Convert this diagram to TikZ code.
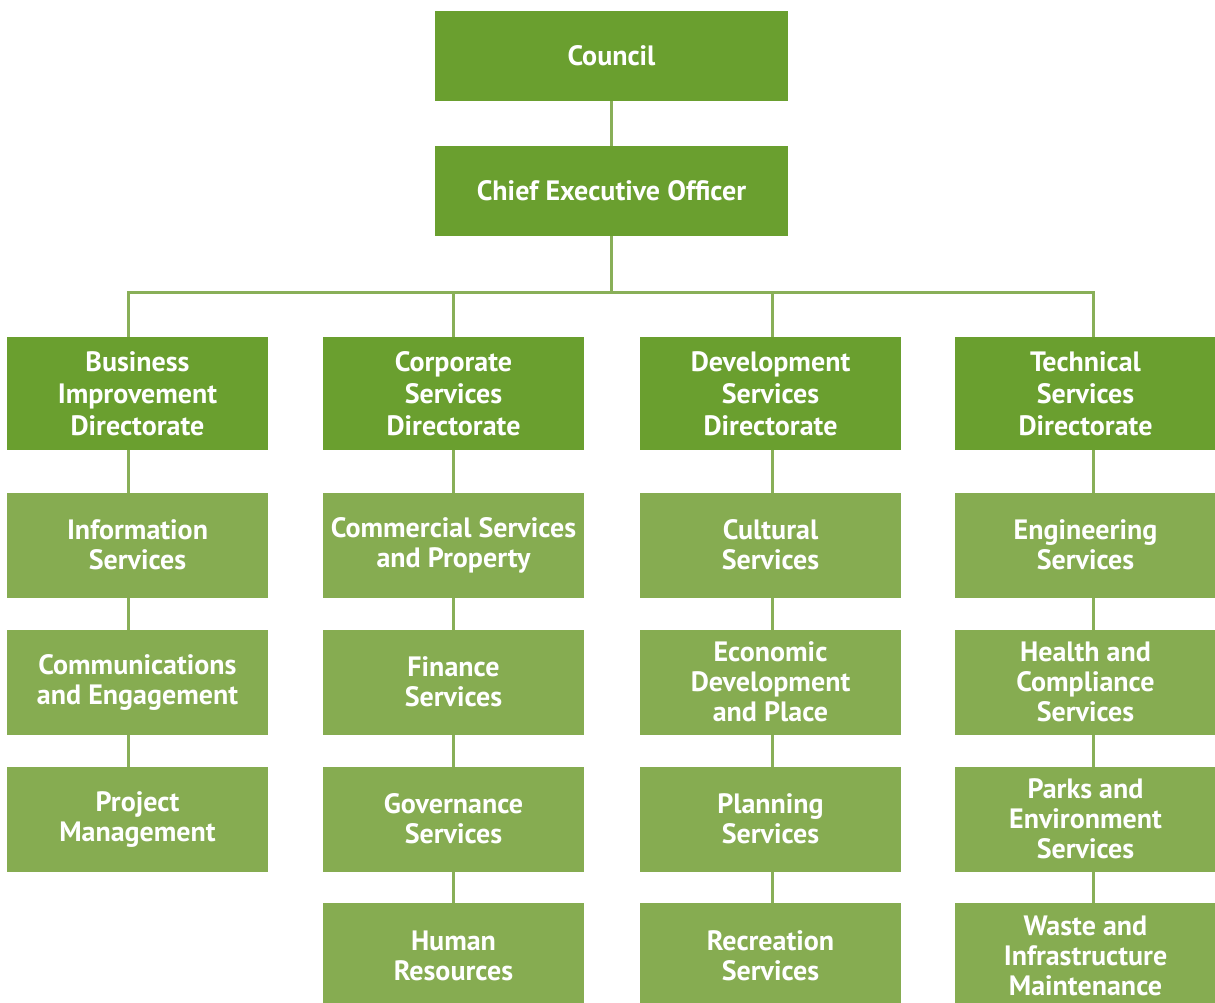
\documentclass[tikz,border=0pt]{standalone}
\usepackage{fontspec}
\setmainfont{PT Sans}
\definecolor{topgreen}{HTML}{6A9F2F}
\definecolor{unitgreen}{HTML}{86AC51}
\definecolor{linkgreen}{HTML}{89AF58}
\begin{document}
\begin{tikzpicture}[x=1pt,y=-1pt,
  box/.style={text=white, inner sep=0pt, outer sep=0pt, align=center, font=\fontsize{28}{30}\selectfont\bfseries},
  top/.style={box, fill=topgreen, minimum width=353pt, minimum height=90pt},
  dir/.style={box, fill=topgreen, minimum width=261pt, minimum height=113pt, font=\fontsize{28}{32}\selectfont\bfseries},
  unit/.style={box, fill=unitgreen, minimum width=261pt, minimum height=105pt},
  link/.style={draw=linkgreen, line width=3pt}]
\useasboundingbox (0,0) rectangle (1215,1002);
\clip (0,0) rectangle (1215,1002);
% top
\node[top] (council) at (611.5,55.5) {Council};
\node[top] (ceo) at (611.5,190.5) {Chief Executive Officer};
\coordinate (bus) at (611.5,292);
% directorates
\node[dir] (bid) at (137.5,393.5) {Business\\Improvement\\Directorate};
\node[dir] (csd) at (453.5,393.5) {Corporate\\Services\\Directorate};
\node[dir] (dsd) at (770.5,393.5) {Development\\Services\\Directorate};
\node[dir] (tsd) at (1085.5,393.5) {Technical\\Services\\Directorate};
% business improvement
\node[unit] (info) at (137.5,545) {Information\\Services};
\node[unit] (comms) at (137.5,682) {Communications\\and Engagement};
\node[unit] (proj) at (137.5,819) {Project\\Management};
% corporate services
\node[unit] (comm) at (453.5,545) {Commercial Services\\and Property};
\node[unit] (fin) at (453.5,682) {Finance\\Services};
\node[unit] (gov) at (453.5,819) {Governance\\Services};
\node[unit] (hr) at (453.5,955.5) {Human\\Resources};
% development services
\node[unit] (cult) at (770.5,545) {Cultural\\Services};
\node[unit] (econ) at (770.5,682) {Economic\\Development\\and Place};
\node[unit] (plan) at (770.5,819) {Planning\\Services};
\node[unit] (rec) at (770.5,955.5) {Recreation\\Services};
% technical services
\node[unit] (eng) at (1085.5,545) {Engineering\\Services};
\node[unit] (health) at (1085.5,682) {Health and\\Compliance\\Services};
\node[unit] (parks) at (1085.5,819) {Parks and\\Environment\\Services};
\node[unit] (waste) at (1085.5,955.5) {Waste and\\Infrastructure\\Maintenance};
% links
\draw[link] (council) -- (ceo);
\draw[link] (ceo) -- (bus);
\draw[link] ([xshift=-9.5pt]bid.north) |- (bus);
\draw[link] ([xshift=7.5pt]tsd.north) |- (bus);
\draw[link] ([xshift=-0.5pt]csd.north) -- ([xshift=-0.5pt]csd.north |- bus);
\draw[link] ([xshift=1.5pt]dsd.north) -- ([xshift=1.5pt]dsd.north |- bus);
% column links
\draw[link] ([xshift=-9.5pt]bid.south) -- ([xshift=-9.5pt]info.north);
\draw[link] ([xshift=-9.5pt]info.south) -- ([xshift=-9.5pt]comms.north);
\draw[link] ([xshift=-9.5pt]comms.south) -- ([xshift=-9.5pt]proj.north);
\draw[link] ([xshift=-0.5pt]csd.south) -- ([xshift=-0.5pt]comm.north);
\draw[link] ([xshift=-0.5pt]comm.south) -- ([xshift=-0.5pt]fin.north);
\draw[link] ([xshift=-0.5pt]fin.south) -- ([xshift=-0.5pt]gov.north);
\draw[link] ([xshift=-0.5pt]gov.south) -- ([xshift=-0.5pt]hr.north);
\draw[link] ([xshift=1.5pt]dsd.south) -- ([xshift=1.5pt]cult.north);
\draw[link] ([xshift=1.5pt]cult.south) -- ([xshift=1.5pt]econ.north);
\draw[link] ([xshift=1.5pt]econ.south) -- ([xshift=1.5pt]plan.north);
\draw[link] ([xshift=1.5pt]plan.south) -- ([xshift=1.5pt]rec.north);
\draw[link] ([xshift=7.5pt]tsd.south) -- ([xshift=7.5pt]eng.north);
\draw[link] ([xshift=7.5pt]eng.south) -- ([xshift=7.5pt]health.north);
\draw[link] ([xshift=7.5pt]health.south) -- ([xshift=7.5pt]parks.north);
\draw[link] ([xshift=7.5pt]parks.south) -- ([xshift=7.5pt]waste.north);
\end{tikzpicture}
\end{document}
